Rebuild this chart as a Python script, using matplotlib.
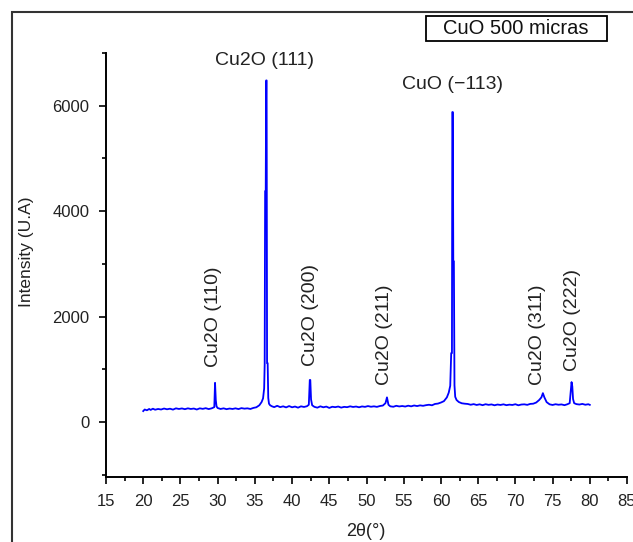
import matplotlib
matplotlib.use("Agg")
import matplotlib.pyplot as plt
from matplotlib.patches import Rectangle
from matplotlib.ticker import MultipleLocator

plt.rcParams['font.family'] = ['Liberation Sans', 'DejaVu Sans']

# XRD pattern
two_theta = [
    20.0, 20.2, 20.5, 20.8, 21.0, 21.3, 21.6, 22.0, 22.4, 22.8, 23.2, 23.6,
    24.0, 24.4, 24.8, 25.2, 25.6, 26.0, 26.4, 26.8, 27.2, 27.6, 28.0, 28.4,
    28.8, 29.2, 29.55, 29.65, 29.75, 29.85, 30.0, 30.4, 30.8, 31.2, 31.6,
    32.0, 32.4, 32.8, 33.2, 33.6, 34.0, 34.4, 34.8, 35.2, 35.6, 35.9, 36.1,
    36.25, 36.32, 36.38, 36.46, 36.52, 36.58, 36.64, 36.72, 36.8, 36.9,
    37.05, 37.3, 37.6, 38.0, 38.4, 38.8, 39.2, 39.6, 40.0, 40.4, 40.8, 41.2,
    41.6, 42.0, 42.25, 42.38, 42.45, 42.55, 42.7, 43.0, 43.4, 43.8, 44.2,
    44.6, 45.0, 45.4, 45.8, 46.2, 46.6, 47.0, 47.4, 47.8, 48.2, 48.6, 49.0,
    49.4, 49.8, 50.2, 50.6, 51.0, 51.4, 51.8, 52.2, 52.55, 52.75, 52.95,
    53.2, 53.6, 54.0, 54.4, 54.8, 55.2, 55.6, 56.0, 56.4, 56.8, 57.2, 57.6,
    58.0, 58.4, 58.8, 59.2, 59.6, 60.0, 60.4, 60.8, 61.05, 61.25, 61.38,
    61.48, 61.53, 61.6, 61.66, 61.74, 61.82, 61.92, 62.1, 62.4, 62.8, 63.2,
    63.6, 64.0, 64.4, 64.8, 65.2, 65.6, 66.0, 66.4, 66.8, 67.2, 67.6, 68.0,
    68.4, 68.8, 69.2, 69.6, 70.0, 70.4, 70.8, 71.2, 71.6, 72.0, 72.4, 72.8,
    73.2, 73.5, 73.7, 73.9, 74.2, 74.6, 75.0, 75.4, 75.8, 76.2, 76.6, 77.0,
    77.3, 77.45, 77.55, 77.65, 77.75, 77.9, 78.2, 78.6, 79.0, 79.4, 79.8, 80.0,
]
intensity = [
    210, 240, 225, 250, 232, 255, 236, 250, 240, 258, 244, 255,
    238, 262, 250, 260, 246, 262, 250, 258, 240, 262, 252, 265,
    248, 262, 285, 745, 420, 300, 268, 250, 262, 246, 258,
    250, 262, 248, 266, 256, 262, 250, 270, 282, 320, 380, 450,
    640, 1100, 4380, 4380, 6480, 6480, 1120, 1120, 460, 350,
    320, 300, 285, 310, 285, 300, 280, 305, 282, 296, 275, 300,
    288, 302, 330, 800, 800, 430, 320, 290, 275, 300, 282,
    295, 270, 292, 284, 296, 276, 290, 284, 300, 288, 296, 282,
    298, 290, 305, 292, 300, 290, 306, 315, 360, 470, 330,
    300, 292, 310, 298, 306, 296, 312, 300, 316, 305, 318, 310,
    322, 330, 320, 345, 352, 372, 398, 470, 560, 690, 1310,
    1310, 5880, 5880, 3050, 3050, 700, 480, 420, 382, 358, 350,
    345, 330, 342, 326, 338, 322, 340, 328, 336, 320, 334, 326,
    338, 322, 332, 326, 340, 320, 334, 338, 328, 346, 350, 372,
    420, 470, 550, 470, 380, 338, 326, 340, 330, 336, 322, 340,
    360, 600, 760, 680, 440, 360, 342, 334, 346, 330, 340, 328,
]

x_ticks = [15, 20, 25, 30, 35, 40, 45, 50, 55, 60, 65, 70, 75, 80, 85]
y_ticks = [0, 2000, 4000, 6000]

# peak labels: text, x, y, rotation
peak_labels = ["Cu2O (111)", "CuO (\u2212113)", "Cu2O (110)", "Cu2O (200)",
               "Cu2O (211)", "Cu2O (311)", "Cu2O (222)"]
label_x = [36.36, 61.49, 29.51, 42.41, 52.48, 73.04, 77.74]
label_y = [6850, 6400, 2000, 2040, 1660, 1660, 1940]
label_rot = [0, 0, 90, 90, 90, 90, 90]

W, H = 633, 542
fig = plt.figure(figsize=(W / 100, H / 100), dpi=100)
ax = fig.add_axes([106 / W, 1 - 477 / H, (627 - 106) / W, (477 - 53) / H])

ax.plot(two_theta, intensity, color='#0000ff', linewidth=1.3)

ax.set_xlim(15, 85)
ax.set_ylim(-1040, 7000)
ax.set_xticks(x_ticks)
ax.set_yticks(y_ticks)
ax.xaxis.set_minor_locator(MultipleLocator(2.5))
ax.yaxis.set_minor_locator(MultipleLocator(1000))
ax.tick_params(axis='both', which='major', direction='out', length=5,
               width=1.2, labelsize=12, colors='#000000', labelcolor='#222222', pad=7)
ax.tick_params(axis='both', which='minor', direction='out', length=3, width=1.2)
for s in ['top', 'right']:
    ax.spines[s].set_visible(False)
for s in ['left', 'bottom']:
    ax.spines[s].set_linewidth(1.4)

for t, x, y, r in zip(peak_labels, label_x, label_y, label_rot):
    ax.text(x, y, t, rotation=r, ha='center', va='center', fontsize=14,
            color='#222222')

fig.text(366 / W, 1 - 531 / H, "2\u03b8(\u00b0)", ha='center', va='center',
         fontsize=13, color='#222222')
fig.text(27 / W, 1 - 252 / H, "Intensity (U.A)", rotation=90, ha='center',
         va='center', fontsize=12.5, color='#222222')

# legend box
fig.patches.append(Rectangle((426 / W, 1 - 41 / H), (607 - 426) / W, 25 / H,
                             transform=fig.transFigure, fill=False,
                             edgecolor='#000000', linewidth=1.3))
fig.text(516 / W, 1 - 28.5 / H, "CuO 500 micras", ha='center', va='center',
         fontsize=14.5, color='#111111')

# outer page frame
fig.patches.append(Rectangle((12 / W, -0.1), 1.2, 1 - 12 / H + 0.1,
                             transform=fig.transFigure, fill=False,
                             edgecolor='#333333', linewidth=1.5))

fig.savefig("out.png", dpi=100)
